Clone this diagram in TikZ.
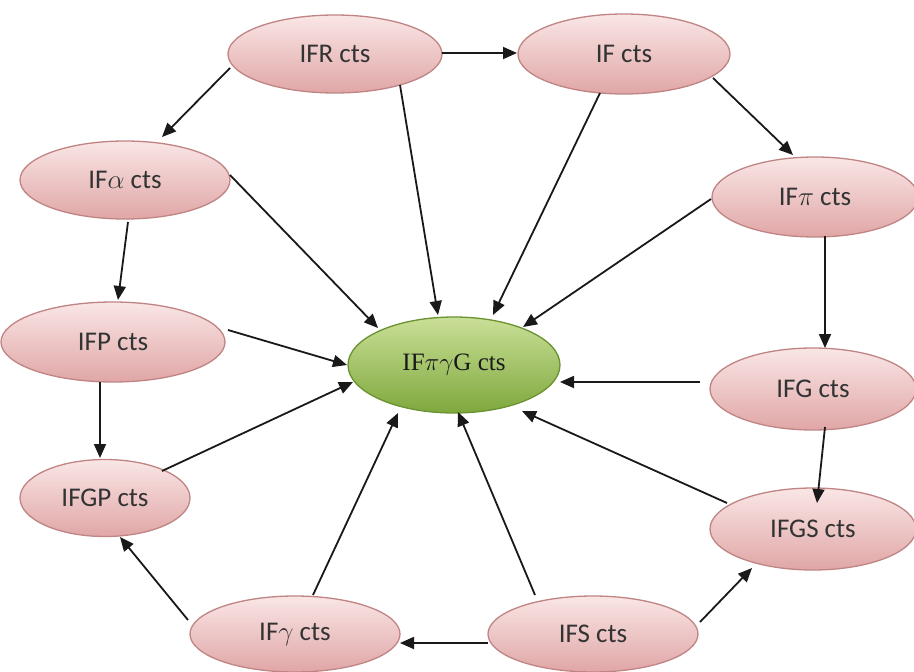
\RequirePackage{fix-cm}
\documentclass[tikz,border=0pt]{standalone}
\usepackage{fontspec}
\newfontfamily\calib{Carlito}
\newfontfamily\serifc{Liberation Serif}
\usetikzlibrary{shapes.geometric,arrows.meta,calc}
\definecolor{pinktop}{HTML}{FAE6E6}
\definecolor{pinkbot}{HTML}{E0A6A6}
\definecolor{pinkrim}{HTML}{C08484}
\definecolor{greentop}{HTML}{CADF98}
\definecolor{greenbot}{HTML}{7EA83C}
\definecolor{greenrim}{HTML}{6A9230}
\definecolor{txt}{HTML}{333333}
\begin{document}
\begin{tikzpicture}[x=1pt,y=-1pt,
  pnode/.style={ellipse, draw=pinkrim, line width=1.3pt, top color=pinktop, bottom color=pinkbot,
    inner sep=0pt, font=\calib\fontsize{27}{32}\selectfont, text=txt},
  gnode/.style={ellipse, draw=greenrim, line width=1.3pt, top color=greentop, bottom color=greenbot,
    inner sep=0pt, font=\serifc\fontsize{25}{30}\selectfont, text=black!90},
  arr/.style={-{Triangle[length=14pt,width=12pt]}, line width=1.8pt, black!90}]
\useasboundingbox (0,0) rectangle (914,672);
\fill[white] (0,0) rectangle (914,672);
% nodes
\node[pnode, minimum width=214pt, minimum height=78pt] (IFR) at (335,54) {IFR cts};
\node[pnode, minimum width=212pt, minimum height=80pt] (IF) at (624,54) {IF cts};
\node[pnode, minimum width=210pt, minimum height=78pt] (IFa) at (125,180) {IF$\alpha$ cts};
\node[pnode, minimum width=206pt, minimum height=80pt] (IFpi) at (815,197) {IF$\pi$ cts};
\node[pnode, minimum width=224pt, minimum height=80pt] (IFP) at (113,342) {IFP cts};
\node[gnode, minimum width=212pt, minimum height=96pt] (C) at (454,365) {IF$\pi\gamma$G cts};
\node[pnode, minimum width=206pt, minimum height=82pt] (IFG) at (813,389) {IFG cts};
\node[pnode, minimum width=170pt, minimum height=77pt] (IFGP) at (105,498) {IFGP cts};
\node[pnode, minimum width=206pt, minimum height=82pt] (IFGS) at (813,529) {IFGS cts};
\node[pnode, minimum width=210pt, minimum height=76pt] (IFg) at (295,634) {IF$\gamma$ cts};
\node[pnode, minimum width=210pt, minimum height=76pt] (IFS) at (593,634) {IFS cts};
% connectors
\draw[arr] ($(IFR)+(107,-1)$) -- ($(IF)+(-107,-1)$);
\draw[arr] ($(IFR)+(-105,14)$) -- ($(IFa)+(37,-43)$);
\draw[arr] ($(IFR)+(65,31)$) -- ($(C)+(-16,-50)$);
\draw[arr] ($(IF)+(-24,39)$) -- ($(C)+(39,-50)$);
\draw[arr] ($(IF)+(89,24)$) -- ($(IFpi)+(-22,-42)$);
\draw[arr] ($(IFpi)+(-104,2)$) -- ($(C)+(69,-38)$);
\draw[arr] ($(IFa)+(105,-5)$) -- ($(C)+(-76,-37)$);
\draw[arr] ($(IFa)+(3,42)$) -- ($(IFP)+(5,-42)$);
\draw[arr] ($(IFP)+(115,-12)$) -- ($(C)+(-107,0)$);
\draw[arr] ($(IFP)+(-13,40)$) -- ($(IFGP)+(-5,-40)$);
\draw[arr] ($(IFGP)+(57,-27)$) -- ($(C)+(-101,17)$);
\draw[arr] ($(IFpi)+(10,39)$) -- ($(IFG)+(12,-41)$);
\draw[arr] ($(IFG)+(-113,-7)$) -- ($(C)+(106,17)$);
\draw[arr] ($(IFG)+(12,38)$) -- ($(IFGS)+(4,-26)$);
\draw[arr] ($(IFGS)+(-86,-26)$) -- ($(C)+(68,46)$);
\draw[arr] ($(IFg)+(-107,-14)$) -- ($(IFGP)+(15,39)$);
\draw[arr] ($(IFg)+(18,-39)$) -- ($(C)+(-56,48)$);
\draw[arr] ($(IFS)+(-58,-39)$) -- ($(C)+(4,47)$);
\draw[arr] ($(IFS)+(-105,9)$) -- ($(IFg)+(105,9)$);
\draw[arr] ($(IFS)+(107,-12)$) -- ($(IFGS)+(-61,39)$);
\end{tikzpicture}
\end{document}
